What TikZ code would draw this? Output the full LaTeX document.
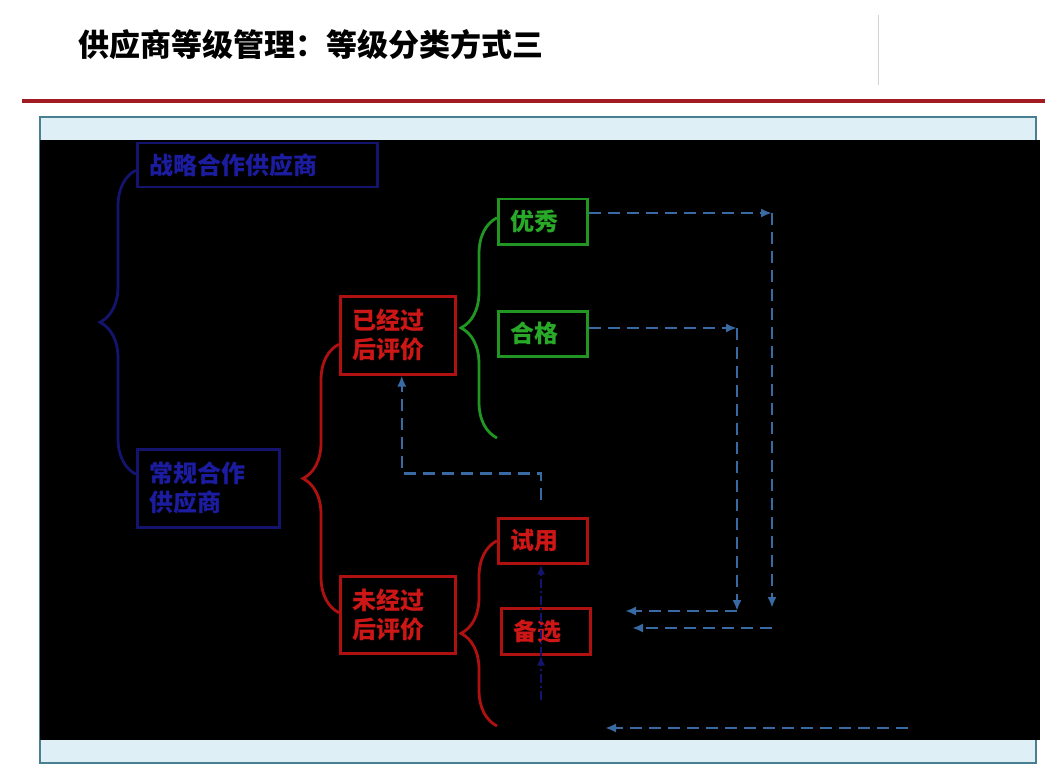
\documentclass[tikz,border=0pt]{standalone}
\usepackage{fontspec}
\newfontfamily\cjk{Noto Sans CJK SC}
\usetikzlibrary{positioning, arrows.meta, decorations.pathreplacing}
\definecolor{navyline}{RGB}{20,20,110}
\definecolor{navytext}{RGB}{28,28,160}
\definecolor{redline}{RGB}{175,16,16}
\definecolor{redtext}{RGB}{205,22,22}
\definecolor{greenline}{RGB}{34,150,34}
\definecolor{greentext}{RGB}{40,170,40}
\definecolor{flowblue}{RGB}{58,106,164}
\definecolor{rulered}{RGB}{160,28,34}
\definecolor{panelfill}{RGB}{222,240,245}
\definecolor{panelline}{RGB}{72,128,145}

\tikzset{
  box/.style={draw, line width=2.5pt, anchor=north west, inner xsep=12pt, inner ysep=0pt, align=left,
    font=\cjk\bfseries\fontsize{24}{29}\selectfont},
  navybox/.style={box, draw=navyline, text=navytext},
  redbox/.style={box, draw=redline, text=redtext},
  greenbox/.style={box, draw=greenline, text=greentext},
  bracket/.style={decorate, decoration={brace, amplitude=36pt}, line width=2.8pt},
  flowarr/.style={draw=flowblue, line width=2.5pt, dash pattern=on 12pt off 7pt, -{Latex[length=11pt,width=9pt]}},
  navyarr/.style={draw=navyline, line width=2.5pt, dash pattern=on 9pt off 3pt on 2pt off 3pt, -{Latex[length=10pt,width=8pt]}},
}

\begin{document}
\begin{tikzpicture}[x=1pt, y=-1pt]
  \useasboundingbox (0,0) rectangle (1045,765);
  % page frame
  \node[anchor=west, inner sep=0pt, font=\cjk\bfseries\fontsize{31}{36}\selectfont] (title) at (78,45) {供应商等级管理：等级分类方式三};
  \draw[gray!35, line width=1pt] (878,15) -- (878,85);
  \draw[rulered, line width=4pt] (22,101) -- (1045,101);
  \draw[fill=panelfill, draw=panelline, line width=2pt] (40,117) rectangle (1036,763);
  \fill[black] (40,140) rectangle (1040,740);

  % boxes
  \node[navybox, minimum width=240pt, minimum height=44pt, text width=216pt] (zl) at (136,142) {战略合作供应商};
  \node[navybox, minimum width=142pt, minimum height=78pt, text width=118pt] (cg) at (136,448) {常规合作\\供应商};
  \node[redbox, minimum width=115pt, minimum height=78pt, text width=91pt] (yjg) at (339,295) {已经过\\后评价};
  \node[redbox, minimum width=115pt, minimum height=77pt, text width=91pt] (wjg) at (339,575) {未经过\\后评价};
  \node[greenbox, minimum width=89pt, minimum height=45pt, text width=65pt] (yx) at (497,198) {优秀};
  \node[greenbox, minimum width=89pt, minimum height=45pt, text width=65pt] (hg) at (497,310) {合格};
  \node[redbox, minimum width=89pt, minimum height=45pt, text width=65pt] (sy) at (497,517) {试用};
  \node[redbox, minimum width=89pt, minimum height=46pt, text width=65pt] (bx) at (500,607) {备选};

  % braces
  \coordinate (gend) at (497,438);
  \coordinate (rend) at (497,726);
  \draw[bracket, navyline] ([yshift=14pt]cg.west) -- ([yshift=-5pt]zl.west);
  \draw[bracket, redline] ([yshift=2pt]wjg.west) -- ([yshift=-9pt]yjg.west);
  \draw[bracket, greenline] (gend) -- ([yshift=4pt]yx.west);
  \draw[bracket, redline] (rend) -- (sy.west);

  % flows
  \coordinate (yxturn) at (772,213);
  \coordinate (yxdown) at (772,608);
  \coordinate (yxback) at (772,628);
  \coordinate (yxbackend) at (632,628);
  \draw[flowarr] (yx.east |- yxturn) -- (yxturn);
  \draw[flowarr] (yxturn) -- (yxdown);
  \draw[flowarr] (yxback) -- (yxbackend);

  \coordinate (hgturn) at (737,328);
  \coordinate (hgdown) at (737,611);
  \coordinate (hgbackend) at (625,611);
  \draw[flowarr] (hg.east |- hgturn) -- (hgturn);
  \draw[flowarr] (hgturn) -- (hgdown);
  \draw[flowarr] (hgdown) -- (hgbackend);

  \coordinate (outstart) at (908,728);
  \coordinate (outend) at (605,728);
  \draw[flowarr] (outstart) -- (outend);

  \coordinate (fbstart) at (541,500);
  \draw[flowarr] (fbstart) |- ([xshift=4pt, yshift=-98pt]yjg.south) -- ([xshift=4pt]yjg.south);

  \coordinate (nvstart) at (541,700);
  \draw[navyarr] (nvstart) -- (nvstart |- bx.south);
  \draw[navyarr] (nvstart |- bx.south) -- (nvstart |- sy.south);
\end{tikzpicture}
\end{document}
